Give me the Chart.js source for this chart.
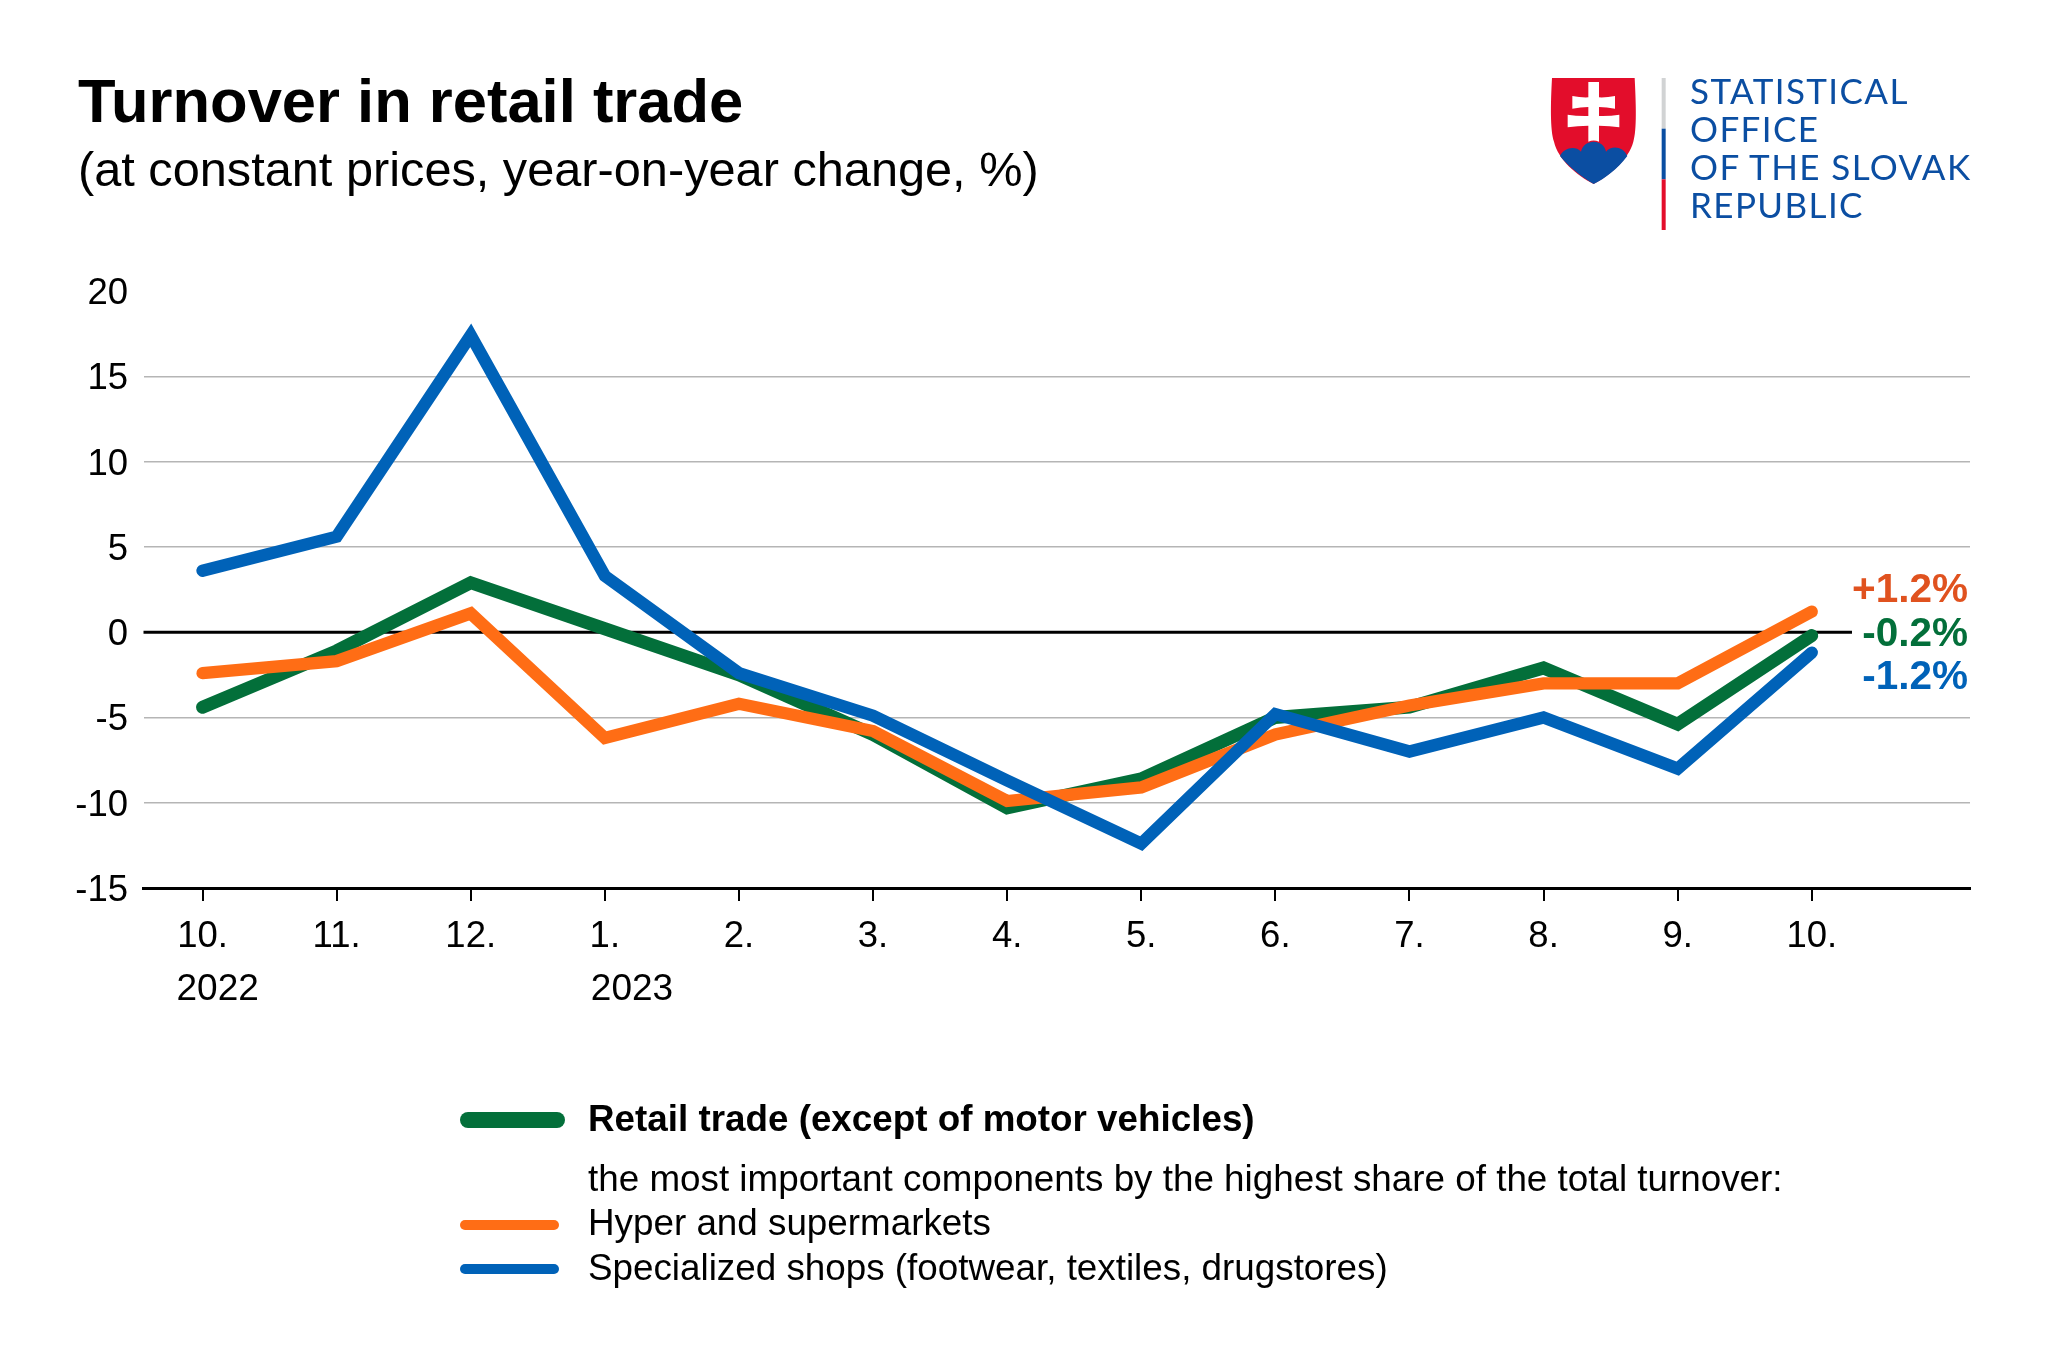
<!DOCTYPE html>
<html lang="en">
<head>
  <meta charset="UTF-8">
  <title>Turnover in retail trade</title>
  <script src="https://cdn.jsdelivr.net/npm/chart.js"></script>
  <style>
    html, body { margin: 0; padding: 0; background: #fff; }
    body { position: relative; width: 2048px; height: 1365px; overflow: hidden; font-family: "Liberation Sans", Arial, sans-serif; color: #000; }
    canvas { position: absolute; left: 0; top: 0; }
    .t { position: absolute; white-space: nowrap; line-height: 1; }
    .logo { font-family: Lato, sans-serif; color: #0b4ea2; font-size: 35px; letter-spacing: 1.4px; left: 1690px; }
    .sw { position: absolute; left: 460px; border-radius: 8px; }
  </style>
</head>
<body>
  <canvas id="retailChart" width="2048" height="1365"></canvas>

  <div class="t" style="left:78px;top:70px;font-size:61.5px;font-weight:bold">Turnover in retail trade</div>
  <div class="t" style="left:78px;top:145px;font-size:48.7px">(at constant prices, year-on-year change, %)</div>

  <svg style="position:absolute;left:1500px;top:50px" width="500" height="200" viewBox="0 0 1500 600">
    <path fill="#e30d2b" d="M156 84H404C408 160 411 240 400 275C385 330 330 375 281 402C230 375 175 330 162 275C150 240 152 160 156 84Z"/>
    <path fill="#0b4ea2" d="M180 318C190 295 225 285 243 305C250 265 312 265 318 305C335 285 370 290 382 318C350 360 315 385 281 402C245 380 210 355 180 318Z"/>
    <path fill="#fff" d="M265 96H297V142Q320 143 345 138V176Q320 171 297 171V198Q330 199 358 194V232Q330 227 297 227V275Q281 268 265 275V227Q232 227 203 232V194Q232 199 265 198V171Q242 171 217 176V138Q242 143 265 142Z"/>
    <rect x="485" y="84" width="12" height="152" fill="#d1d3d4"/>
    <rect x="485" y="236" width="12" height="152" fill="#0b4ea2"/>
    <rect x="485" y="388" width="12" height="152" fill="#e30d2b"/>
  </svg>
  <div class="t logo" style="top:72.5px">STATISTICAL</div>
  <div class="t logo" style="top:110.5px">OFFICE</div>
  <div class="t logo" style="top:148.5px">OF THE SLOVAK</div>
  <div class="t logo" style="top:186.5px">REPUBLIC</div>

  <div class="sw" style="top:1112px;width:105px;height:16px;background:#036f3a"></div>
  <div class="sw" style="top:1220px;width:99px;height:10px;background:#ff6d15"></div>
  <div class="sw" style="top:1264px;width:99px;height:10px;background:#0062b8"></div>
  <div class="t" style="left:588px;top:1101px;font-size:36.8px;font-weight:bold">Retail trade (except of motor vehicles)</div>
  <div class="t" style="left:588px;top:1161px;font-size:36.8px">the most important components by the highest share of the total turnover:</div>
  <div class="t" style="left:588px;top:1205px;font-size:36.8px">Hyper and supermarkets</div>
  <div class="t" style="left:588px;top:1250px;font-size:36.8px">Specialized shops (footwear, textiles, drugstores)</div>

  <script>
    const months = ['10.', '11.', '12.', '1.', '2.', '3.', '4.', '5.', '6.', '7.', '8.', '9.', '10.'];
    const years = ['2022', '', '', '2023', '', '', '', '', '', '', '', '', ''];
    const retail = [-4.4, -1.1, 2.9, 0.2, -2.5, -6.0, -10.3, -8.6, -5.0, -4.4, -2.1, -5.4, -0.2];
    const hyper = [-2.4, -1.7, 1.1, -6.2, -4.2, -5.8, -9.9, -9.1, -6.0, -4.3, -3.0, -3.0, 1.2];
    const specialized = [3.6, 5.6, 17.4, 3.3, -2.4, -4.9, -8.7, -12.4, -4.8, -7.0, -5.0, -8.0, -1.2];
    const endLabels = ['-0.2%', '+1.2%', '-1.2%'];

    const FONT = '"Liberation Sans", Arial, sans-serif';
    const toPoints = arr => arr.map((v, i) => ({ x: i, y: v }));

    const line = (label, data, color, width, order) => ({
      label: label,
      data: toPoints(data),
      borderColor: color,
      borderWidth: width,
      borderCapStyle: 'round',
      borderJoinStyle: 'miter',
      pointRadius: 0,
      tension: 0,
      clip: false,
      order: order
    });

    // zero line stops short of the end labels
    const zeroLine = {
      id: 'zeroLine',
      beforeDatasetsDraw(chart) {
        const { ctx, scales: { x, y } } = chart;
        ctx.save();
        ctx.strokeStyle = '#000';
        ctx.lineWidth = 3;
        ctx.beginPath();
        ctx.moveTo(x.left, y.getPixelForValue(0));
        ctx.lineTo(x.getPixelForValue(12.3), y.getPixelForValue(0));
        ctx.stroke();
        ctx.restore();
      }
    };

    // y labels (centred lower than the library does), years, and the coloured end values
    const extraText = {
      id: 'extraText',
      afterDatasetsDraw(chart) {
        const { ctx, scales: { x, y } } = chart;
        ctx.save();
        ctx.fillStyle = '#000';
        ctx.font = '36.5px ' + FONT;
        ctx.textAlign = 'right';
        ctx.textBaseline = 'middle';
        y.ticks.forEach(t => ctx.fillText(t.value, 128, y.getPixelForValue(t.value) + 3));
        ctx.font = '37px ' + FONT;
        ctx.textAlign = 'left';
        ctx.textBaseline = 'alphabetic';
        years.forEach((yr, i) => {
          if (yr) ctx.fillText(yr, x.getPixelForValue(i) + (i === 0 ? -26 : -14), 1000);
        });
        ctx.font = 'bold 40.5px ' + FONT;
        ctx.textAlign = 'right';
        ctx.textBaseline = 'middle';
        const y0 = y.getPixelForValue(0);
        ctx.fillStyle = '#036f3a';
        ctx.fillText(endLabels[0], 1968, y0 + 3);
        ctx.fillStyle = '#e0521f';
        ctx.fillText(endLabels[1], 1968, y0 - 41);
        ctx.fillStyle = '#0062b8';
        ctx.fillText(endLabels[2], 1968, y0 + 46);
        ctx.restore();
      }
    };

    new Chart(document.getElementById('retailChart').getContext('2d'), {
      type: 'line',
      data: {
        datasets: [
          line('Retail trade (except of motor vehicles)', retail, '#036f3a', 13, 3),
          line('Hyper and supermarkets', hyper, '#ff6d15', 12.3, 2),
          line('Specialized shops (footwear, textiles, drugstores)', specialized, '#0062b8', 12.3, 1)
        ]
      },
      plugins: [zeroLine, extraText],
      options: {
        responsive: false,
        animation: false,
        layout: { padding: { top: 291, right: 78, left: 0, bottom: 0 } },
        plugins: { legend: { display: false }, title: { display: false }, tooltip: { enabled: false } },
        scales: {
          x: {
            type: 'linear',
            min: -0.44,
            max: 13.18,
            afterFit(s) { s.height = 477; },
            afterBuildTicks(s) { s.ticks = months.map((m, i) => ({ value: i })); },
            border: { color: '#000', width: 3 },
            grid: { drawOnChartArea: false, color: '#000', tickColor: '#000', tickLength: 13, lineWidth: 2, tickWidth: 2 },
            ticks: {
              color: '#000',
              padding: 14,
              maxRotation: 0,
              autoSkip: false,
              font: { family: FONT, size: 36.5 },
              callback: v => months[v]
            }
          },
          y: {
            min: -15,
            max: 20,
            afterFit(s) { s.width = 143.5; },
            border: { display: false },
            grid: {
              drawTicks: false,
              lineWidth: 1.5,
              color: c => (c.tick.value === 20 || c.tick.value === 0 || c.tick.value === -15) ? 'rgba(0,0,0,0)' : '#b5b5b5'
            },
            ticks: { display: false, stepSize: 5 }
          }
        }
      }
    });
  </script>
</body>
</html>
